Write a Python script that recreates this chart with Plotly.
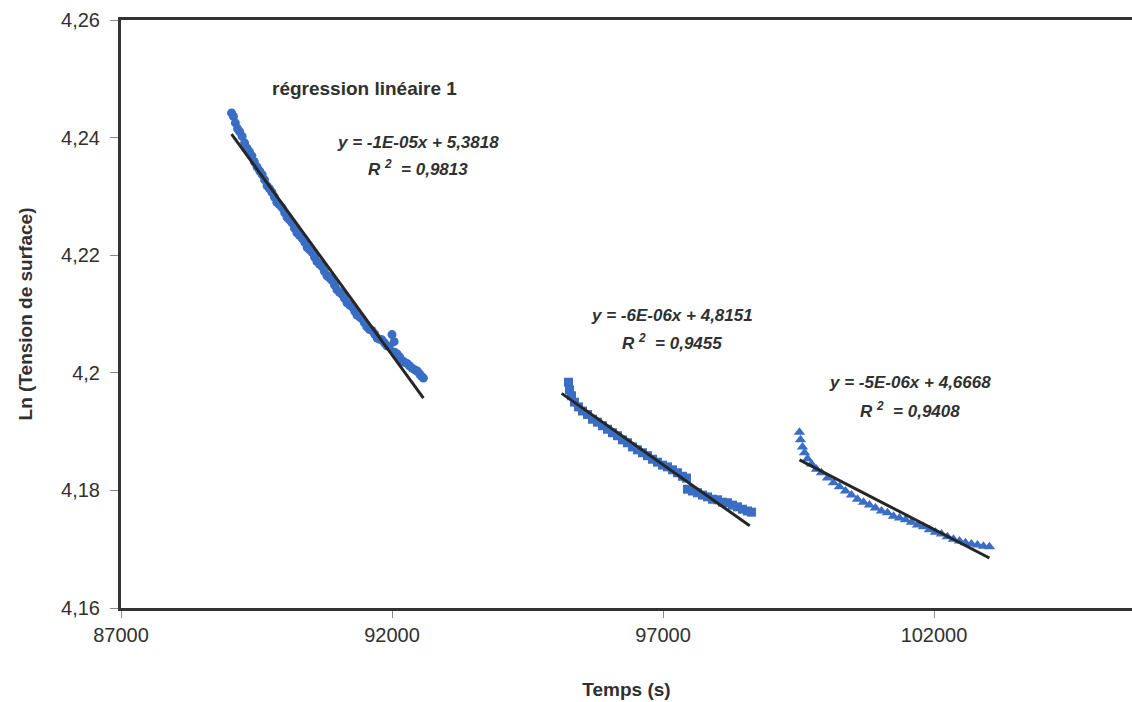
import plotly.graph_objects as go

# ---------------- data ----------------
t1 = [89040, 89075, 89110, 89150, 89190, 89235, 89280, 89325, 89370, 89415,
      89460, 89510, 89560, 89605, 89650, 89695, 89740, 89785, 89830, 89875,
      89920, 89970, 90020, 90065, 90110, 90155, 90200, 90245, 90290, 90340,
      90390, 90435, 90480, 90525, 90570, 90615, 90660, 90705, 90750, 90800,
      90850, 90895, 90940, 90985, 91030, 91075, 91120, 91170, 91220, 91265,
      91310, 91355, 91400, 91445, 91490, 91535, 91580, 91630, 91680, 91725,
      91770, 91815, 91860, 91905, 91950, 92000, 92040, 92050, 92095, 92140,
      92185, 92230, 92275, 92320, 92370, 92420, 92465, 92510, 92545, 92580]
ln1 = [4.2442, 4.2436, 4.2425, 4.2415, 4.2410, 4.2402, 4.2391, 4.2382, 4.2376, 4.2369,
       4.2359, 4.2350, 4.2343, 4.2337, 4.2328, 4.2318, 4.2313, 4.2307, 4.2299, 4.2290,
       4.2286, 4.2281, 4.2272, 4.2264, 4.2260, 4.2255, 4.2246, 4.2238, 4.2234, 4.2229,
       4.2222, 4.2213, 4.2209, 4.2205, 4.2197, 4.2189, 4.2185, 4.2181, 4.2173, 4.2165,
       4.2161, 4.2157, 4.2149, 4.2141, 4.2137, 4.2134, 4.2127, 4.2119, 4.2115, 4.2112,
       4.2105, 4.2098, 4.2095, 4.2092, 4.2085, 4.2078, 4.2074, 4.2072, 4.2066, 4.2059,
       4.2057, 4.2056, 4.2051, 4.2046, 4.2044, 4.2065, 4.2053, 4.2035, 4.2032, 4.2027,
       4.2021, 4.2018, 4.2016, 4.2012, 4.2008, 4.2005, 4.2003, 4.1998, 4.1994, 4.1991]

t2 = [95256, 95275, 95312, 95367, 95441, 95515, 95607, 95699, 95791, 95884,
      95976, 96068, 96160, 96252, 96345, 96437, 96529, 96622, 96714, 96806,
      96898, 96991, 97083, 97175, 97267, 97360, 97433, 97452, 97544, 97636,
      97729, 97821, 97913, 98005, 98097, 98190, 98282, 98374, 98466, 98559,
      98632]
ln2 = [4.1984, 4.1971, 4.1961, 4.1950, 4.1942, 4.1935, 4.1929, 4.1921, 4.1916, 4.1910,
       4.1904, 4.1898, 4.1893, 4.1886, 4.1881, 4.1874, 4.1869, 4.1864, 4.1859, 4.1853,
       4.1848, 4.1843, 4.1840, 4.1835, 4.1830, 4.1824, 4.1821, 4.1802, 4.1799, 4.1796,
       4.1792, 4.1789, 4.1785, 4.1784, 4.1780, 4.1779, 4.1775, 4.1772, 4.1768, 4.1765,
       4.1763]

t3 = [99518, 99537, 99574, 99611, 99666, 99740, 99832, 99924, 100035, 100145,
      100256, 100367, 100477, 100588, 100699, 100809, 100920, 101031, 101141, 101252,
      101363, 101474, 101584, 101695, 101806, 101916, 102027, 102138, 102248, 102359,
      102470, 102580, 102691, 102802, 102912, 103023]
ln3 = [4.1899, 4.1886, 4.1874, 4.1864, 4.1854, 4.1845, 4.1836, 4.1830, 4.1821, 4.1813,
       4.1806, 4.1799, 4.1792, 4.1785, 4.1780, 4.1775, 4.1770, 4.1765, 4.1762, 4.1756,
       4.1753, 4.1750, 4.1746, 4.1741, 4.1738, 4.1733, 4.1729, 4.1726, 4.1721, 4.1717,
       4.1714, 4.1711, 4.1709, 4.1707, 4.1705, 4.1704]

# trend lines (end points)
fit1_t = [89040, 92580]
fit1_y = [4.2406, 4.1957]
fit2_t = [95130, 98600]
fit2_y = [4.1965, 4.1740]
fit3_t = [99518, 103023]
fit3_y = [4.1852, 4.1685]

eq_texts = ["y = -1E-05x + 5,3818", "y = -6E-06x + 4,8151", "y = -5E-06x + 4,6668"]
r2_texts = ["0,9813", "0,9455", "0,9408"]

x_tickvals = [87000, 92000, 97000, 102000]
x_ticktext = ["87000", "92000", "97000", "102000"]
y_tickvals = [4.16, 4.18, 4.20, 4.22, 4.24, 4.26]
y_ticktext = ["4,16", "4,18", "4,2", "4,22", "4,24", "4,26"]

# ---------------- figure ----------------
BLUE = "#3A6DC4"
DARK = "#262626"
TXT = "#303030"
FONT = "Liberation Sans, Arial, sans-serif"

fig = go.Figure()
fig.add_trace(go.Scatter(x=t1, y=ln1, mode="markers",
                         marker=dict(symbol="circle", size=9, color=BLUE, line=dict(width=0))))
fig.add_trace(go.Scatter(x=t2, y=ln2, mode="markers",
                         marker=dict(symbol="square", size=9, color=BLUE, line=dict(width=0))))
fig.add_trace(go.Scatter(x=t3, y=ln3, mode="markers",
                         marker=dict(symbol="triangle-up", size=10, color=BLUE, line=dict(width=0))))
for ft, fy in [(fit1_t, fit1_y), (fit2_t, fit2_y), (fit3_t, fit3_y)]:
    fig.add_trace(go.Scatter(x=ft, y=fy, mode="lines",
                             line=dict(color=DARK, width=3)))

x_max = 87000 + 1011 * 5000 / 271

fig.update_layout(
    width=1132, height=702,
    margin=dict(l=121, r=0, t=20, b=94),
    paper_bgcolor="white", plot_bgcolor="white",
    showlegend=False,
    font=dict(family=FONT, size=19, color=TXT),
    xaxis=dict(range=[87000, x_max], tickvals=x_tickvals, ticktext=x_ticktext,
               showgrid=False, zeroline=False,
               showline=True, linecolor="#333333", linewidth=3, mirror=True,
               ticks="outside", ticklen=7, tickwidth=1, tickcolor="#888888",
               tickfont=dict(size=20, color=TXT),
               title=dict(text="<b>Temps (s)</b>", font=dict(size=19, color=TXT),
                          standoff=38)),
    yaxis=dict(range=[4.16, 4.26], tickvals=y_tickvals, ticktext=y_ticktext,
               showgrid=False, zeroline=False,
               showline=True, linecolor="#333333", linewidth=3, mirror=False,
               ticks="outside", ticklen=8, tickwidth=1, tickcolor="#888888",
               ticklabelstandoff=6,
               tickfont=dict(size=20, color=TXT),
               title=dict(text="<b>Ln (Tension de surface)</b>",
                          font=dict(size=19, color=TXT), standoff=24)),
)

fig.add_annotation(x=91490, y=4.2484, xref="x", yref="y", showarrow=False,
                   text="<b>régression linéaire 1</b>",
                   font=dict(family=FONT, size=19, color=TXT))

eq_pos = [(92480, 4.2391, 4.2348), (97170, 4.2098, 4.2052), (101560, 4.1983, 4.1937)]
for (ex, ey, ry), eq, r2 in zip(eq_pos, eq_texts, r2_texts):
    fig.add_annotation(x=ex, y=ey, xref="x", yref="y", showarrow=False,
                       text="<b><i>" + eq + "</i></b>",
                       font=dict(family=FONT, size=17, color=TXT))
    fig.add_annotation(x=ex, y=ry, xref="x", yref="y", showarrow=False,
                       text="<b><i>R <sup>2</sup>  = " + r2 + "</i></b>",
                       font=dict(family=FONT, size=17, color=TXT))

fig.write_html("out.html")
